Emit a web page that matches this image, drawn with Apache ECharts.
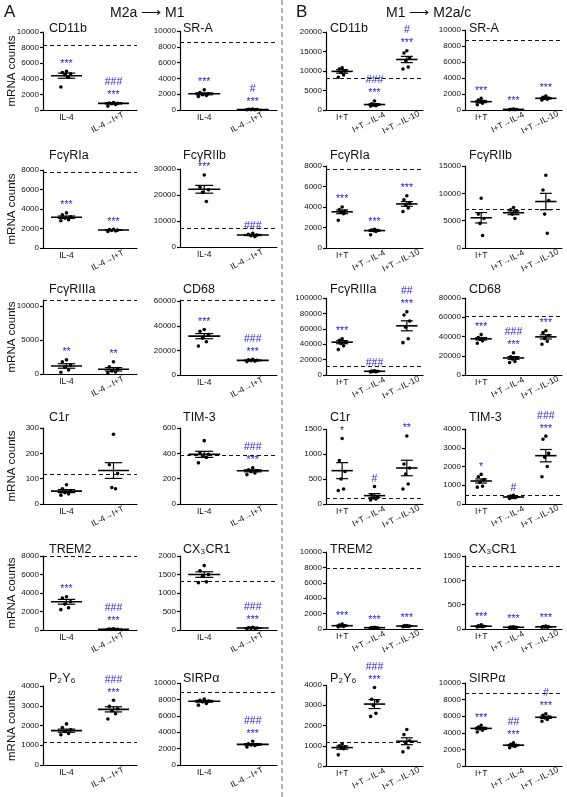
<!DOCTYPE html>
<html><head><meta charset="utf-8">
<script src="https://cdn.jsdelivr.net/npm/echarts@6/dist/echarts.min.js"></script>
<style>html,body{margin:0;padding:0;background:#fff}#c{width:567px;height:797px}</style>
</head><body><div id="c"></div>
<script>
// ---------- categories ----------
const catsA = ['IL-4', 'IL-4→I+T'];
const catsB = ['I+T', 'I+T→IL-4', 'I+T→IL-10'];

// ---------- panel titles (row by row, A-left, A-right, B-left, B-right) ----------
const titles = ['CD11b', 'SR-A', 'CD11b', 'SR-A',
  'FcγRIa', 'FcγRIIb', 'FcγRIa', 'FcγRIIb',
  'FcγRIIIa', 'CD68', 'FcγRIIIa', 'CD68',
  'C1r', 'TIM-3', 'C1r', 'TIM-3',
  'TREM2', 'CX₃CR1', 'TREM2', 'CX₃CR1',
  'P₂Y₆', 'SIRPα', 'P₂Y₆', 'SIRPα'];

// ---------- y axis maxima and tick labels ----------
const yMax = [10000, 10000, 20000, 10000,
  8000, 30000, 8000, 15000,
  10900, 61000, 100000, 80000,
  300, 600, 1500, 4000,
  8000, 2000, 10000, 1500,
  4000, 10000, 4000, 10000];
const yTicks = [
  [0, 2000, 4000, 6000, 8000, 10000], [0, 2000, 4000, 6000, 8000, 10000], [0, 5000, 10000, 15000, 20000], [0, 2000, 4000, 6000, 8000, 10000],
  [0, 2000, 4000, 6000, 8000], [0, 10000, 20000, 30000], [0, 2000, 4000, 6000, 8000], [0, 5000, 10000, 15000],
  [0, 5000, 10000], [0, 20000, 40000, 60000], [0, 20000, 40000, 60000, 80000, 100000], [0, 20000, 40000, 60000, 80000],
  [0, 100, 200, 300], [0, 200, 400, 600], [0, 500, 1000, 1500], [0, 1000, 2000, 3000, 4000],
  [0, 2000, 4000, 6000, 8000], [0, 500, 1000, 1500, 2000], [0, 2000, 4000, 6000, 8000, 10000], [0, 500, 1000, 1500],
  [0, 1000, 2000, 3000, 4000], [0, 2000, 4000, 6000, 8000, 10000], [0, 1000, 2000, 3000, 4000], [0, 2000, 4000, 6000, 8000, 10000]];

// ---------- dashed reference level per panel ----------
const refLevel = [8350, 8550, 8100, 8750,
  7750, 7100, 7700, 7100,
  10850, 61000, 11500, 61000,
  117, 388, 115, 460,
  7950, 1330, 7850, 1290,
  1170, 8830, 1160, 8750];

// ---------- A: M2a -> M1 ----------
const A_CD11b_pts = [[4950, 4800, 4650, 4500, 4200, 2950], [950, 900, 850, 800, 700, 500]];
const A_CD11b_mean = [4400, 850];
const A_CD11b_sem = [330, 80];
const A_CD11b_sig = ['***', '###\n***'];

const A_SRA_pts = [[2550, 2200, 2050, 1950, 1850, 1700], [110, 80, 60, 50, 40, 30]];
const A_SRA_mean = [2050, 60];
const A_SRA_sem = [120, 15];
const A_SRA_sig = ['***', '#\n***'];

const A_FcgRIa_pts = [[3600, 3400, 3200, 3050, 2900, 2800], [1920, 1880, 1830, 1800, 1760, 1700]];
const A_FcgRIa_mean = [3160, 1840];
const A_FcgRIa_sem = [120, 35];
const A_FcgRIa_sig = ['***', '***'];

const A_FcgRIIb_pts = [[27700, 23000, 22000, 21000, 17500], [5300, 4900, 4600, 4300, 4000]];
const A_FcgRIIb_mean = [22200, 4600];
const A_FcgRIIb_sem = [1500, 220];
const A_FcgRIIb_sig = ['***', '###'];

const A_FcgRIIIa_pts = [[2100, 1800, 1300, 1000, 600, 250], [1800, 1050, 700, 450, 300, 200]];
const A_FcgRIIIa_mean = [1180, 690];
const A_FcgRIIIa_sem = [330, 250];
const A_FcgRIIIa_sig = ['**', '**'];

const A_CD68_pts = [[37000, 35500, 33000, 30000, 27000, 23500], [12800, 12400, 12000, 11700, 11300, 10900]];
const A_CD68_mean = [31600, 11900];
const A_CD68_sem = [2100, 300];
const A_CD68_sig = ['***', '###\n***'];

const A_C1r_pts = [[76, 60, 52, 45, 40, 35], [275, 155, 120, 65, 60]];
const A_C1r_mean = [51, 132];
const A_C1r_sem = [6, 31];
const A_C1r_sig = ['', ''];

const A_TIM3_pts = [[500, 405, 392, 380, 368, 325], [285, 270, 262, 255, 245, 232]];
const A_TIM3_mean = [392, 262];
const A_TIM3_sem = [24, 8];
const A_TIM3_sig = ['', '###\n***'];

const A_TREM2_pts = [[3600, 3450, 3050, 2800, 2400, 2200], [120, 100, 80, 70, 60, 50]];
const A_TREM2_mean = [3050, 80];
const A_TREM2_sem = [260, 12];
const A_TREM2_sig = ['***', '###\n***'];

const A_CX3CR1_pts = [[1740, 1600, 1500, 1450, 1300, 1280], [70, 62, 55, 50, 45, 40]];
const A_CX3CR1_mean = [1498, 54];
const A_CX3CR1_sem = [75, 5];
const A_CX3CR1_sig = ['', '###\n***'];

const A_P2Y6_pts = [[2080, 1900, 1780, 1700, 1600, 1530], [3280, 2970, 2850, 2750, 2600, 2330]];
const A_P2Y6_mean = [1738, 2818];
const A_P2Y6_sem = [80, 130];
const A_P2Y6_sig = ['', '###\n***'];

const A_SIRPa_pts = [[8050, 7900, 7800, 7700, 7500, 7300], [2900, 2600, 2500, 2450, 2380, 2200]];
const A_SIRPa_mean = [7770, 2510];
const A_SIRPa_sem = [110, 90];
const A_SIRPa_sig = ['', '###\n***'];

// ---------- B: M1 -> M2a/c ----------
const B_CD11b_pts = [[10800, 10500, 10000, 9600, 9000, 8400], [2300, 1600, 1400, 1250, 1100, 1000], [15200, 14600, 13300, 12700, 11000, 10500]];
const B_CD11b_mean = [9900, 1400, 12950];
const B_CD11b_sem = [450, 200, 800];
const B_CD11b_sig = ['', '###\n***', '#\n***'];

const B_SRA_pts = [[1450, 1250, 1100, 1000, 850, 650], [120, 90, 70, 60, 50, 40], [1750, 1600, 1500, 1450, 1350, 1250]];
const B_SRA_mean = [1040, 75, 1460];
const B_SRA_sem = [120, 12, 75];
const B_SRA_sig = ['***', '***', '***'];

const B_FcgRIa_pts = [[4000, 3750, 3600, 3500, 3350, 2700], [1820, 1760, 1720, 1680, 1620, 1300], [5100, 4700, 4350, 4200, 3900, 3550]];
const B_FcgRIa_mean = [3530, 1700, 4300];
const B_FcgRIa_sem = [180, 80, 230];
const B_FcgRIa_sig = ['***', '***', '***'];

const B_FcgRIIb_pts = [[9100, 6200, 5400, 4500, 2300], [7400, 7000, 6600, 6200, 5400], [13300, 10600, 8700, 6200, 2700]];
const B_FcgRIIb_mean = [5530, 6450, 8500];
const B_FcgRIIb_sem = [950, 350, 1500];
const B_FcgRIIb_sig = ['', '', ''];

const B_FcgRIIIa_pts = [[47000, 45000, 43000, 41000, 38000, 33000], [5600, 5100, 4800, 4500, 4200, 3900], [82000, 78000, 70000, 62000, 47000, 42000]];
const B_FcgRIIIa_mean = [42600, 4800, 63900];
const B_FcgRIIIa_sem = [2000, 250, 6500];
const B_FcgRIIIa_sig = ['***', '###', '##\n***'];

const B_CD68_pts = [[42000, 39000, 38000, 37000, 35500, 33000], [23000, 19000, 17500, 16500, 14000, 13000], [46000, 44000, 41000, 38000, 35000, 32000]];
const B_CD68_mean = [37600, 17700, 39600];
const B_CD68_sem = [1200, 1400, 2200];
const B_CD68_sig = ['***', '###\n***', '***'];

const B_C1r_pts = [[1310, 870, 650, 500, 300, 270], [350, 180, 150, 120, 100, 80], [1360, 800, 720, 600, 400, 300]];
const B_C1r_mean = [667, 167, 720];
const B_C1r_sem = [160, 40, 155];
const B_C1r_sig = ['*', '#', '**'];

const B_TIM3_pts = [[1580, 1450, 1300, 1150, 950, 900], [460, 420, 380, 350, 330, 300], [3620, 3450, 2700, 2500, 2000, 1450]];
const B_TIM3_mean = [1227, 373, 2578];
const B_TIM3_sem = [110, 25, 330];
const B_TIM3_sig = ['*', '#', '###\n***'];

const B_TREM2_pts = [[650, 520, 450, 400, 320, 280], [220, 190, 170, 150, 130, 110], [450, 420, 390, 370, 340, 300]];
const B_TREM2_mean = [430, 170, 380];
const B_TREM2_sem = [60, 18, 25];
const B_TREM2_sig = ['***', '***', '***'];

const B_CX3CR1_pts = [[85, 65, 55, 50, 45, 40], [45, 40, 36, 33, 30, 28], [60, 52, 46, 42, 38, 35]];
const B_CX3CR1_mean = [57, 35, 45];
const B_CX3CR1_sem = [7, 3, 4];
const B_CX3CR1_sig = ['***', '***', '***'];

const B_P2Y6_pts = [[1100, 1000, 950, 900, 850, 550], [3880, 3300, 3200, 3000, 2600, 2450], [1800, 1550, 1250, 1150, 900, 700]];
const B_P2Y6_mean = [909, 3058, 1223];
const B_P2Y6_sem = [80, 220, 170];
const B_P2Y6_sig = ['', '###\n***', ''];

const B_SIRPa_pts = [[4900, 4700, 4550, 4450, 4300, 4100], [2800, 2600, 2500, 2450, 2350, 2200], [6300, 6100, 5900, 5800, 5600, 5400]];
const B_SIRPa_mean = [4530, 2510, 5870];
const B_SIRPa_sem = [120, 80, 130];
const B_SIRPa_sig = ['***', '##\n***', '#\n***'];

// ---------- assemble panels in grid order ----------
const panels = [
  [A_CD11b_pts, A_CD11b_mean, A_CD11b_sem, A_CD11b_sig],
  [A_SRA_pts, A_SRA_mean, A_SRA_sem, A_SRA_sig],
  [B_CD11b_pts, B_CD11b_mean, B_CD11b_sem, B_CD11b_sig],
  [B_SRA_pts, B_SRA_mean, B_SRA_sem, B_SRA_sig],
  [A_FcgRIa_pts, A_FcgRIa_mean, A_FcgRIa_sem, A_FcgRIa_sig],
  [A_FcgRIIb_pts, A_FcgRIIb_mean, A_FcgRIIb_sem, A_FcgRIIb_sig],
  [B_FcgRIa_pts, B_FcgRIa_mean, B_FcgRIa_sem, B_FcgRIa_sig],
  [B_FcgRIIb_pts, B_FcgRIIb_mean, B_FcgRIIb_sem, B_FcgRIIb_sig],
  [A_FcgRIIIa_pts, A_FcgRIIIa_mean, A_FcgRIIIa_sem, A_FcgRIIIa_sig],
  [A_CD68_pts, A_CD68_mean, A_CD68_sem, A_CD68_sig],
  [B_FcgRIIIa_pts, B_FcgRIIIa_mean, B_FcgRIIIa_sem, B_FcgRIIIa_sig],
  [B_CD68_pts, B_CD68_mean, B_CD68_sem, B_CD68_sig],
  [A_C1r_pts, A_C1r_mean, A_C1r_sem, A_C1r_sig],
  [A_TIM3_pts, A_TIM3_mean, A_TIM3_sem, A_TIM3_sig],
  [B_C1r_pts, B_C1r_mean, B_C1r_sem, B_C1r_sig],
  [B_TIM3_pts, B_TIM3_mean, B_TIM3_sem, B_TIM3_sig],
  [A_TREM2_pts, A_TREM2_mean, A_TREM2_sem, A_TREM2_sig],
  [A_CX3CR1_pts, A_CX3CR1_mean, A_CX3CR1_sem, A_CX3CR1_sig],
  [B_TREM2_pts, B_TREM2_mean, B_TREM2_sem, B_TREM2_sig],
  [B_CX3CR1_pts, B_CX3CR1_mean, B_CX3CR1_sem, B_CX3CR1_sig],
  [A_P2Y6_pts, A_P2Y6_mean, A_P2Y6_sem, A_P2Y6_sig],
  [A_SIRPa_pts, A_SIRPa_mean, A_SIRPa_sem, A_SIRPa_sig],
  [B_P2Y6_pts, B_P2Y6_mean, B_P2Y6_sem, B_P2Y6_sig],
  [B_SIRPa_pts, B_SIRPa_mean, B_SIRPa_sem, B_SIRPa_sig]
];

// ---------- layout ----------
const FONT = '"Liberation Sans", Arial, Helvetica, sans-serif';
const BLUE = '#2424dc';
const colLeft = [43, 180, 326, 465];
const colRight = [137, 277, 423, 562];
const gTop = [32, 31, 32, 30, 170, 169, 166, 166, 300, 300, 298, 298, 428, 428, 429, 429, 556, 556, 552, 556, 686, 683, 685, 683];
const gBot = [110, 110, 110, 110, 248, 247, 248, 248, 374, 375, 375, 375, 504, 504, 504, 504, 630, 630, 629, 629, 765, 765, 766, 766];
const titleY = [29, 156, 290, 418, 550, 679];
const titleX = [49, 183, 330, 469];
const JIT = [0, -1.1, 1.1, -0.45, 0.55, -1.5, 1.5];

const grids = [], xAxes = [], yAxes = [], series = [], titleOpts = [];

panels.forEach((p, i) => {
  const [pts, mean, sem, sig] = p;
  const r = Math.floor(i / 4), c = i % 4;
  const cats = c < 2 ? catsA : catsB;
  grids.push({ left: colLeft[c], top: gTop[i], width: colRight[c] - colLeft[c], height: gBot[i] - gTop[i] });
  xAxes.push({
    type: 'category', gridIndex: i, data: cats, position: 'bottom',
    axisLine: { lineStyle: { color: '#000', width: 1.2 } }, axisTick: { show: false },
    axisLabel: { interval: 0, margin: 3, fontSize: 8.5, fontFamily: FONT, color: '#111',
      formatter: (v, idx) => idx === 0 ? v : '' }
  });
  xAxes.push({
    type: 'category', gridIndex: i, data: cats, position: 'bottom',
    axisLine: { show: false }, axisTick: { show: false },
    axisLabel: { interval: 0, rotate: 27, align: 'center', verticalAlign: 'middle', padding: [0, 13, 0, 0],
      margin: 9.5, fontSize: 8.5, fontFamily: FONT, color: '#111',
      formatter: (v, idx) => idx === 0 ? '' : v }
  });
  yAxes.push({
    type: 'value', gridIndex: i, min: 0, max: yMax[i],
    axisLine: { show: true, lineStyle: { color: '#000', width: 1.2 } },
    axisTick: { show: true, length: 3, customValues: yTicks[i], lineStyle: { color: '#000', width: 1.2 } },
    axisLabel: { customValues: yTicks[i], fontSize: 8, margin: 4, fontFamily: FONT, color: '#111',
      formatter: v => String(v) },
    splitLine: { show: false },
    name: c === 0 ? 'mRNA counts' : '', nameLocation: 'middle', nameGap: 25, nameRotate: 90,
    nameMoveOverlap: false,
    nameTextStyle: { fontSize: 11.5, fontFamily: FONT, color: '#111' }
  });
  titleOpts.push({
    text: titles[i], left: titleX[c], top: titleY[r] - 7, padding: 0,
    textStyle: { fontSize: 12.5, fontWeight: 'normal', fontFamily: FONT, color: '#111' }
  });

  // points
  const ptData = [];
  pts.forEach((grp, g) => grp.forEach((v, k) => ptData.push([g, v, k])));
  series.push({
    type: 'custom', xAxisIndex: 2 * i, yAxisIndex: i, clip: false, z: 2,
    data: ptData,
    renderItem: (params, api) => {
      const g = api.value(0), v = api.value(1), k = api.value(2);
      const pt = api.coord([g, v]);
      const bw = api.size([1, 0])[0];
      const off = JIT[k % JIT.length] * bw * 0.08;
      return { type: 'circle', shape: { cx: pt[0] + off, cy: pt[1], r: 1.8 }, style: { fill: '#000' } };
    },
    markLine: {
      silent: true, symbol: ['none', 'none'], label: { show: false },
      lineStyle: { type: [4, 3], color: '#111', width: 1 },
      data: [{ yAxis: refLevel[i] }], animation: false
    }
  });

  // mean, SEM and significance marks
  const msData = mean.map((m, g) => [g, m, sem[g], Math.max(m + sem[g], ...pts[g])]);
  series.push({
    type: 'custom', xAxisIndex: 2 * i, yAxisIndex: i, clip: false, z: 3,
    data: msData,
    renderItem: (params, api) => {
      const g = api.value(0), m = api.value(1), s = api.value(2), top = api.value(3);
      const cpt = api.coord([g, m]);
      const hi = api.coord([g, m + s])[1];
      const lo = api.coord([g, Math.max(0, m - s)])[1];
      const bw = api.size([1, 0])[0];
      const hw = bw * 0.33, sw = bw * 0.185;
      const x = cpt[0];
      const ls = { stroke: '#000', lineWidth: 1.2 };
      const children = [
        { type: 'line', shape: { x1: x - hw, y1: cpt[1], x2: x + hw, y2: cpt[1] }, style: { stroke: '#000', lineWidth: 1.6 } },
        { type: 'line', shape: { x1: x, y1: hi, x2: x, y2: lo }, style: ls },
        { type: 'line', shape: { x1: x - sw, y1: hi, x2: x + sw, y2: hi }, style: ls },
        { type: 'line', shape: { x1: x - sw, y1: lo, x2: x + sw, y2: lo }, style: ls }
      ];
      const txt = sig[params.dataIndex];
      if (txt) {
        const ty = api.coord([g, top])[1];
        children.push({ type: 'text', x: x, y: ty - 1,
          style: { text: txt, fill: BLUE, fontSize: 10.5, fontFamily: FONT, align: 'center', verticalAlign: 'bottom', lineHeight: 13 } });
      }
      return { type: 'group', children };
    }
  });
});

const chart = echarts.init(document.getElementById('c'), null, { renderer: 'canvas' });
chart.setOption({
  animation: false,
  backgroundColor: '#fff',
  title: titleOpts,
  grid: grids,
  xAxis: xAxes,
  yAxis: yAxes,
  series: series,
  graphic: [
    { type: 'text', left: 4, top: 4, style: { text: 'A', fontSize: 17, fontFamily: FONT, fill: '#111' } },
    { type: 'text', left: 110, top: 6, style: { text: 'M2a ⟶ M1', fontSize: 14, fontFamily: FONT, fill: '#111' } },
    { type: 'text', left: 296, top: 4, style: { text: 'B', fontSize: 17, fontFamily: FONT, fill: '#111' } },
    { type: 'text', left: 386, top: 6, style: { text: 'M1 ⟶ M2a/c', fontSize: 14, fontFamily: FONT, fill: '#111' } },
    { type: 'line', shape: { x1: 282, y1: 0, x2: 282, y2: 797 }, style: { stroke: '#666', lineDash: [5, 3], lineWidth: 1 } }
  ]
});
</script></body></html>
